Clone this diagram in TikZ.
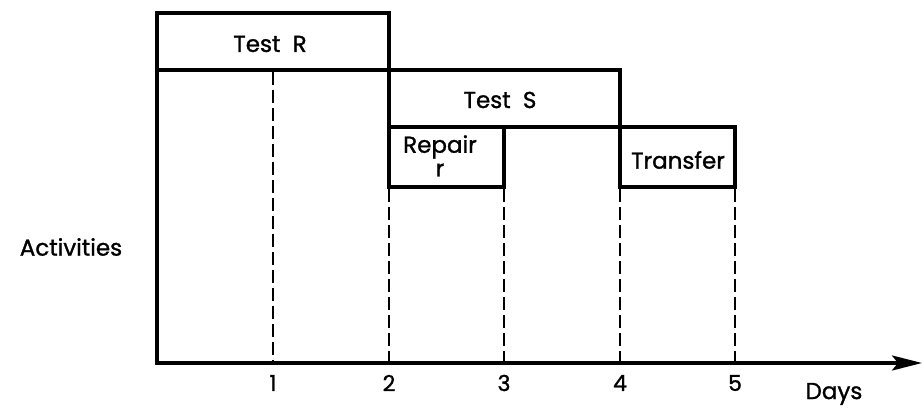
\documentclass[tikz,border=0pt]{standalone}
\usepackage{fontspec}
\setmainfont{Poppins}
\newfontfamily\lblfont{Poppins}[FakeBold=1.2]
\usetikzlibrary{arrows.meta}
\begin{document}
\begin{tikzpicture}[x=1pt,y=-1pt,
  solidline/.style={line width=3.2pt, line cap=rect},
  dashline/.style={line width=2.2pt, dash pattern=on 13pt off 5pt},
  lbl/.style={font=\lblfont\fontsize{23}{24}\selectfont, inner sep=0pt},
  ticklbl/.style={font=\lblfont\fontsize{22}{24}\selectfont, inner sep=0pt}]
\useasboundingbox (0,0) rectangle (924,409);
% axes
\coordinate (o) at (157,363);
\coordinate (ytop) at (157,13);
\coordinate (xend) at (922,363);
\draw[solidline] (ytop) -- (o);
\draw[line width=3.2pt, -{Stealth[length=30pt,width=15pt,inset=6pt]}] (o) -- (xend);
% boxes
\draw[solidline] (157,13) -- (389,13) -- (389,187);
\draw[solidline] (157,70) -- (620,70) -- (620,187);
\draw[solidline] (389,127) -- (735,127) -- (735,187);
\draw[solidline] (389,187) -- (504,187) -- (504,127);
\draw[solidline] (620,187) -- (735,187);
% dashed guides
\draw[dashline] (273,72) -- (273,363);
\draw[dashline] (389,189) -- (389,363);
\draw[dashline] (504,189) -- (504,363);
\draw[dashline] (620,189) -- (620,363);
\draw[dashline] (735,189) -- (735,363);
% labels
\node[lbl] (testr) at (270,44) {Test\ \ R};
\node[lbl] (tests) at (500,100) {Test\ \ S};
\node[lbl] (repair) at (440,147) {Repair};
\node[lbl] (repr) at (440,170) {r};
\node[lbl] (transfer) at (678,160) {Transfer};
\node[lbl] (act) at (71,247) {Activities};
\node[ticklbl] (t1) at (273,383) {1};
\node[ticklbl] (t2) at (389,383) {2};
\node[ticklbl] (t3) at (504,383) {3};
\node[ticklbl] (t4) at (620,383) {4};
\node[ticklbl] (t5) at (735,383) {5};
\node[lbl] (days) at (834,394) {Days};
\end{tikzpicture}
\end{document}
